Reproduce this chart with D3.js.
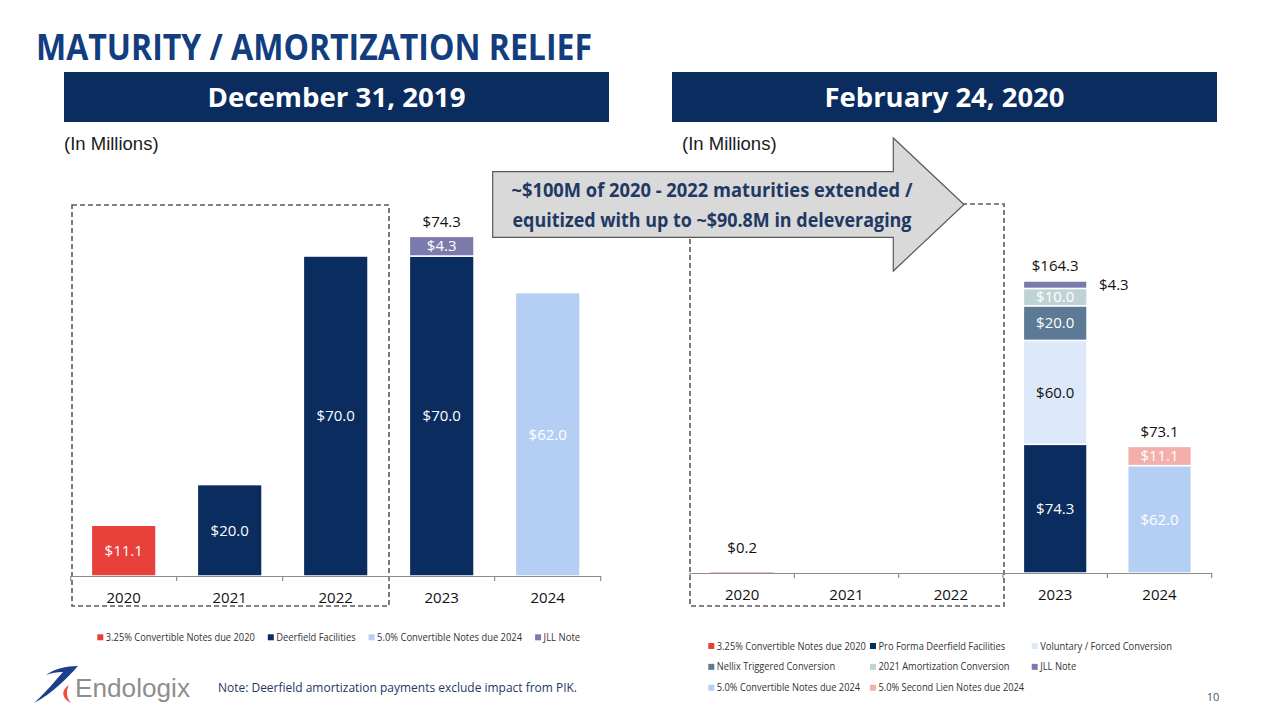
<!DOCTYPE html>
<html>
<head>
<meta charset="utf-8">
<script src="https://cdnjs.cloudflare.com/ajax/libs/d3/7.8.5/d3.min.js"></script>
<style>
  html, body { margin: 0; padding: 0; background: #ffffff; }
  svg { display: block; }
</style>
</head>
<body>
<script>
// ---------------- DATA ----------------
const years = ["2020", "2021", "2022", "2023", "2024"];

// December 31, 2019 (left chart)
const leftNames = ["3.25% Convertible Notes due 2020", "Deerfield Facilities", "5.0% Convertible Notes due 2024", "JLL Note"];
const leftConv2020  = [11.1, 0, 0, 0, 0];
const leftDeerfield = [0, 20.0, 70.0, 70.0, 0];
const leftConv2024  = [0, 0, 0, 0, 62.0];
const leftJLL       = [0, 0, 0, 4.3, 0];
const leftTotals    = [null, null, null, 74.3, null];

// February 24, 2020 (right chart)
const rightNames = ["3.25% Convertible Notes due 2020", "Pro Forma Deerfield Facilities", "Voluntary / Forced Conversion",
                    "Nellix Triggered Conversion", "2021 Amortization Conversion", "JLL Note",
                    "5.0% Convertible Notes due 2024", "5.0% Second Lien Notes due 2024"];
const rightConv2020   = [0.2, 0, 0, 0, 0];
const rightDeerfield  = [0, 0, 0, 74.3, 0];
const rightVoluntary  = [0, 0, 0, 60.0, 0];
const rightNellix     = [0, 0, 0, 20.0, 0];
const rightAmort      = [0, 0, 0, 10.0, 0];
const rightJLL        = [0, 0, 0, 4.3, 0];
const rightConv2024   = [0, 0, 0, 0, 62.0];
const rightSecondLien = [0, 0, 0, 0, 11.1];
const rightTotals     = [null, null, null, 164.3, 73.1];

// ---------------- STYLE ----------------
const FONT = "'Open Sans', 'Noto Sans', sans-serif";
const NAVY = "#0A2C5E";
const colorMap = {
  "3.25% Convertible Notes due 2020": "#E8403A",
  "Deerfield Facilities": NAVY,
  "Pro Forma Deerfield Facilities": NAVY,
  "5.0% Convertible Notes due 2024": "#B4CEF4",
  "JLL Note": "#7C79AD",
  "Voluntary / Forced Conversion": "#DDE9FA",
  "Nellix Triggered Conversion": "#5C7A96",
  "2021 Amortization Conversion": "#BFD3D5",
  "5.0% Second Lien Notes due 2024": "#F3B0AB"
};
const labelColorMap = {
  "Voluntary / Forced Conversion": "#111111"
};
// rendered legend text widths (layout only)
const legendWidthMap = {
  left: [149, 79.3, 145, 36.6],
  right: [149, 126.6, 131.7, 118.3, 131, 36, 143.3, 145.6]
};
const fmt = v => "$" + d3.format(".1f")(v);

const svg = d3.select("body").append("svg").attr("width", 1280).attr("height", 720);

// ---------------- TITLE / HEADERS ----------------
svg.append("text").attr("x", 36).attr("y", 60)
  .attr("font-family", FONT).attr("font-weight", 700).attr("font-size", 36)
  .attr("fill", "#123D7E").attr("textLength", 556).attr("lengthAdjust", "spacingAndGlyphs")
  .text("MATURITY / AMORTIZATION RELIEF");

const headers = [
  {x: 64, label: "December 31, 2019", w: 258},
  {x: 672, label: "February 24, 2020", w: 240}
];
headers.forEach(h => {
  svg.append("rect").attr("x", h.x).attr("y", 72).attr("width", 545).attr("height", 50).attr("fill", NAVY);
  svg.append("text").attr("x", h.x + 272.5).attr("y", 107).attr("text-anchor", "middle")
    .attr("font-family", FONT).attr("font-weight", 700).attr("font-size", 27).attr("fill", "#ffffff")
    .attr("textLength", h.w).attr("lengthAdjust", "spacingAndGlyphs")
    .text(h.label);
  svg.append("text").attr("x", h.x + (h.x === 64 ? 0 : 10)).attr("y", 150)
    .attr("font-family", "'Liberation Sans', Arial, sans-serif").attr("font-size", 18.5).attr("fill", "#1a1a1a")
    .text("(In Millions)");
});

// ---------------- CHART BUILDER ----------------
function buildChart(cfg) {
  const rows = years.map((yr, i) => {
    const o = {year: yr};
    cfg.names.forEach((n, k) => o[n] = cfg.columns[k][i]);
    return o;
  });
  const series = d3.stack().keys(cfg.names)(rows);
  const x = d3.scaleBand().domain(years).range([cfg.x0, cfg.x1]).paddingInner(0.39).paddingOuter(0.195);
  const y = d3.scaleLinear().domain([0, cfg.yMax]).range([cfg.axisY, cfg.axisY - cfg.yMax * cfg.pxPerUnit]);

  const g = svg.append("g");
  series.forEach(s => {
    const name = s.key;
    s.forEach((d, i) => {
      const v = d[1] - d[0];
      if (v <= 0) return;
      const top = y(d[1]), bot = y(d[0]);
      g.append("rect")
        .attr("x", x(years[i])).attr("y", top)
        .attr("width", x.bandwidth()).attr("height", bot - top)
        .attr("fill", colorMap[name])
        .attr("stroke", "#ffffff").attr("stroke-width", bot - top > 3 ? 1.5 : 0);
      const cx = x(years[i]) + x.bandwidth() / 2;
      const lab = g.append("text").attr("font-family", FONT).attr("font-size", 15);
      if (bot - top < 4) {
        lab.attr("x", cx).attr("y", top - 25).attr("dy", "0.35em").attr("text-anchor", "middle").attr("fill", "#111");
      } else if (cfg.outsideRight && cfg.outsideRight.includes(name)) {
        lab.attr("x", x(years[i]) + x.bandwidth() + 12).attr("y", (top + bot) / 2).attr("dy", "0.35em")
          .attr("text-anchor", "start").attr("fill", "#111");
      } else {
        lab.attr("x", cx).attr("y", (top + bot) / 2).attr("dy", "0.35em").attr("text-anchor", "middle")
          .attr("fill", labelColorMap[name] || "#ffffff");
      }
      lab.text(fmt(v));
    });
  });
  cfg.totals.forEach((t, i) => {
    if (t == null) return;
    const stackTop = d3.max(series, s => s[i][1]);
    g.append("text").attr("x", x(years[i]) + x.bandwidth() / 2).attr("y", y(stackTop) - 15).attr("dy", "0.35em")
      .attr("text-anchor", "middle").attr("font-family", FONT).attr("font-size", 15).attr("fill", "#111")
      .text(fmt(t));
  });

  const ax = g.append("g").attr("transform", `translate(0,${cfg.axisY})`)
    .call(d3.axisBottom(x).tickSize(0).tickPadding(cfg.tickPad));
  ax.select(".domain").attr("stroke", "#8C8C8C").attr("stroke-width", 1.2);
  ax.selectAll(".tick text").attr("font-family", FONT).attr("font-size", 15).attr("fill", "#111");
  const bounds = d3.range(years.length + 1).map(i => cfg.x0 + x.step() * i);
  bounds.forEach(bx => {
    ax.append("line").attr("x1", bx).attr("x2", bx).attr("y1", 0).attr("y2", 5)
      .attr("stroke", "#8C8C8C").attr("stroke-width", 1.2);
  });
  return {x, y};
}

// dashed boxes (drawn first so the arrow sits over the right one)
svg.append("rect").attr("x", 72).attr("y", 205).attr("width", 317).attr("height", 401)
  .attr("fill", "none").attr("stroke", "#595959").attr("stroke-width", 1.6).attr("stroke-dasharray", "5,3");
svg.append("rect").attr("x", 690).attr("y", 204).attr("width", 314).attr("height", 402)
  .attr("fill", "none").attr("stroke", "#595959").attr("stroke-width", 1.6).attr("stroke-dasharray", "5,3");

buildChart({
  names: leftNames,
  columns: [leftConv2020, leftDeerfield, leftConv2024, leftJLL],
  totals: leftTotals,
  x0: 70.7, x1: 600.7, axisY: 576, yMax: 80, pxPerUnit: 4.571, tickPad: 16
});
buildChart({
  names: rightNames,
  columns: [rightConv2020, rightDeerfield, rightVoluntary, rightNellix, rightAmort, rightJLL, rightConv2024, rightSecondLien],
  totals: rightTotals,
  outsideRight: ["JLL Note"],
  x0: 690, x1: 1211.7, axisY: 573, yMax: 180, pxPerUnit: 1.732, tickPad: 16
});

// ---------------- ARROW ----------------
const ap = d3.path();
ap.moveTo(492.7, 171.7); ap.lineTo(893.3, 171.7); ap.lineTo(893.3, 138); ap.lineTo(964, 204.5);
ap.lineTo(893.3, 271); ap.lineTo(893.3, 237.3); ap.lineTo(492.7, 237.3); ap.closePath();
svg.append("path").attr("d", ap.toString()).attr("fill", "#D9D9D9").attr("stroke", "#595959").attr("stroke-width", 1.2);
[["~$100M of 2020 - 2022 maturities extended /", 196.5, 401],
 ["equitized with up to ~$90.8M in deleveraging", 227, 399]].forEach(([t, yy, w]) => {
  svg.append("text").attr("x", 712).attr("y", yy).attr("text-anchor", "middle")
    .attr("font-family", FONT).attr("font-weight", 700).attr("font-size", 20).attr("fill", "#1F3864")
    .attr("textLength", w).attr("lengthAdjust", "spacingAndGlyphs").text(t);
});

// ---------------- LEGENDS ----------------
function legendItem(xm, ym, name, w) {
  svg.append("rect").attr("x", xm).attr("y", ym - 3).attr("width", 6).attr("height", 6).attr("fill", colorMap[name]);
  svg.append("text").attr("x", xm + 8.5).attr("y", ym).attr("dy", "0.35em")
    .attr("font-family", FONT).attr("font-size", 10.2).attr("fill", "#333")
    .attr("textLength", w).attr("lengthAdjust", "spacingAndGlyphs").text(name);
}
(function () {
  let xx = 97.3;
  leftNames.forEach((n, i) => {
    legendItem(xx, 637.3, n, legendWidthMap.left[i]);
    xx += 8.5 + legendWidthMap.left[i] + 13;
  });
})();
rightNames.forEach((n, i) => {
  const col = i % 3, row = Math.floor(i / 3);
  legendItem(708.3 + col * 161.7, 646 + row * 20.85, n, legendWidthMap.right[i]);
});

// ---------------- FOOTER ----------------
svg.append("text").attr("x", 218).attr("y", 692)
  .attr("font-family", FONT).attr("font-size", 12.5).attr("fill", "#1F3864")
  .attr("textLength", 359).attr("lengthAdjust", "spacingAndGlyphs")
  .text("Note:  Deerfield amortization payments exclude impact from PIK.");
svg.append("text").attr("x", 1213).attr("y", 701).attr("text-anchor", "middle")
  .attr("font-family", FONT).attr("font-size", 11).attr("fill", "#44546A").text("10");

// logo
svg.append("path").attr("fill", "#1B3F8B")
  .attr("d", "M34,703 C45,693 55,681 63,672 C57,672 51,673 46,675 C54,669 66,666 78,666 C68,677 52,694 34,703 Z");
svg.append("path").attr("fill", "#E8503F")
  .attr("d", "M69,685 C61,690 61,698 71,703 C66,697 66,691 69,685 Z");
svg.append("text").attr("x", 75).attr("y", 697)
  .attr("font-family", "'Liberation Sans', Arial, sans-serif").attr("font-size", 26).attr("fill", "#8E8E8E")
  .attr("textLength", 115).attr("lengthAdjust", "spacingAndGlyphs").text("Endologix");
</script>
</body>
</html>
